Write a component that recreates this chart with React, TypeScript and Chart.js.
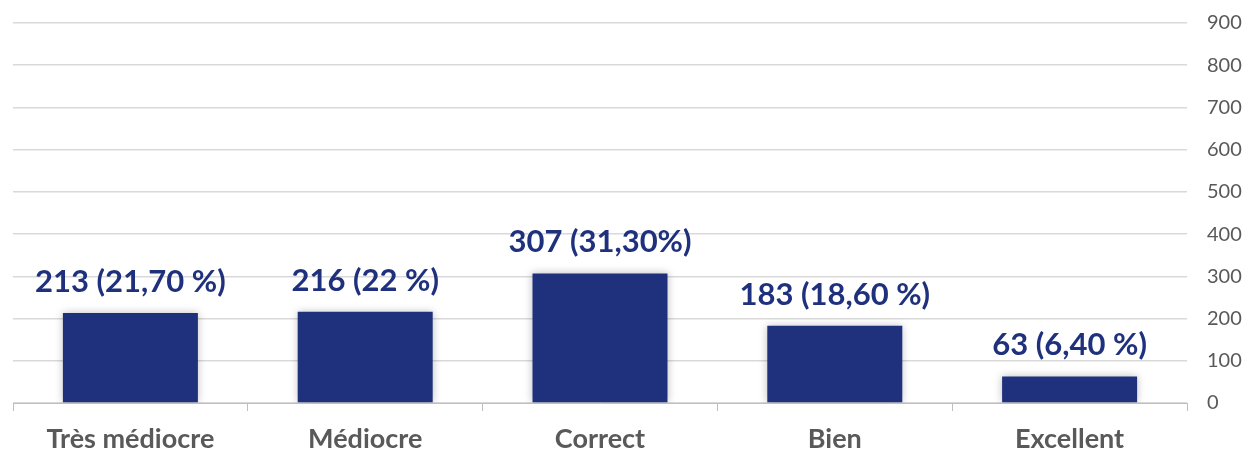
import React, { useEffect, useRef } from "react";
import { Chart, registerables } from "chart.js";

Chart.register(...registerables);

const categories = ["Très médiocre", "Médiocre", "Correct", "Bien", "Excellent"];
const counts = [213, 216, 307, 183, 63];
const valueLabels = ["213 (21,70 %)", "216 (22 %)", "307 (31,30%)", "183 (18,60 %)", "63 (6,40 %)"];
const yTicks = [0, 100, 200, 300, 400, 500, 600, 700, 800, 900];

const NAVY = "#1F317D";
const FONT = "Lato, 'Open Sans', sans-serif";

const labelPlugin = {
  id: "valueLabels",
  afterDatasetsDraw(chart: any) {
    const ctx = chart.ctx;
    const meta = chart.getDatasetMeta(0);
    ctx.save();
    ctx.fillStyle = NAVY;
    ctx.font = `bold 31px ${FONT}`;
    ctx.textAlign = "center";
    ctx.textBaseline = "middle";
    meta.data.forEach((bar: any, i: number) => {
      ctx.fillText(valueLabels[i], bar.x, bar.y - 31);
    });
    ctx.restore();
  },
};

const shadowPlugin = {
  id: "barShadow",
  beforeDatasetsDraw(chart: any) {
    const ctx = chart.ctx;
    ctx.save();
    ctx.shadowColor = "rgba(0,0,0,0.25)";
    ctx.shadowBlur = 8;
    ctx.shadowOffsetX = 0;
    ctx.shadowOffsetY = 0;
  },
  afterDatasetsDraw(chart: any) {
    chart.ctx.restore();
  },
};

export default function App() {
  const ref = useRef<HTMLCanvasElement | null>(null);
  useEffect(() => {
    document.body.style.margin = "0";
    const chart = new Chart(ref.current!, {
      type: "bar",
      data: {
        labels: categories,
        datasets: [
          {
            data: counts,
            backgroundColor: NAVY,
            categoryPercentage: 0.575,
            barPercentage: 1,
          },
        ],
      },
      options: {
        animation: false,
        responsive: false,
        maintainAspectRatio: false,
        layout: { padding: { left: 13, right: 0, top: 23, bottom: 0 } },
        plugins: { legend: { display: false }, tooltip: { enabled: false } },
        scales: {
          x: {
            afterFit(scale: any) {
              scale.height = 49;
              scale.paddingLeft = 0;
              scale.paddingRight = 0;
            },
            grid: {
              offset: true,
              drawOnChartArea: false,
              drawTicks: true,
              tickLength: 8,
              color: "#BFBFBF",
            },
            border: { display: true, color: "#BFBFBF" },
            ticks: {
              color: "#595959",
              font: { family: FONT, size: 27, weight: "bold" },
              padding: 12,
            },
          },
          y: {
            position: "right",
            min: 0,
            max: 900,
            afterBuildTicks(scale: any) {
              scale.ticks = yTicks.map((v) => ({ value: v }));
            },
            afterFit(scale: any) {
              scale.width = 61;
              scale.paddingTop = 0;
              scale.paddingBottom = 0;
            },
            grid: { color: "#D9D9D9", drawTicks: false, lineWidth: 1.5 },
            border: { display: false },
            ticks: {
              color: "#595959",
              font: { family: FONT, size: 20 },
              padding: 20,
            },
          },
        },
      },
      plugins: [shadowPlugin, labelPlugin],
    });
    return () => chart.destroy();
  }, []);
  return (
    <div style={{ width: 1248, height: 452, background: "#fff" }}>
      <canvas ref={ref} width={1248} height={452} style={{ display: "block" }} />
    </div>
  );
}
